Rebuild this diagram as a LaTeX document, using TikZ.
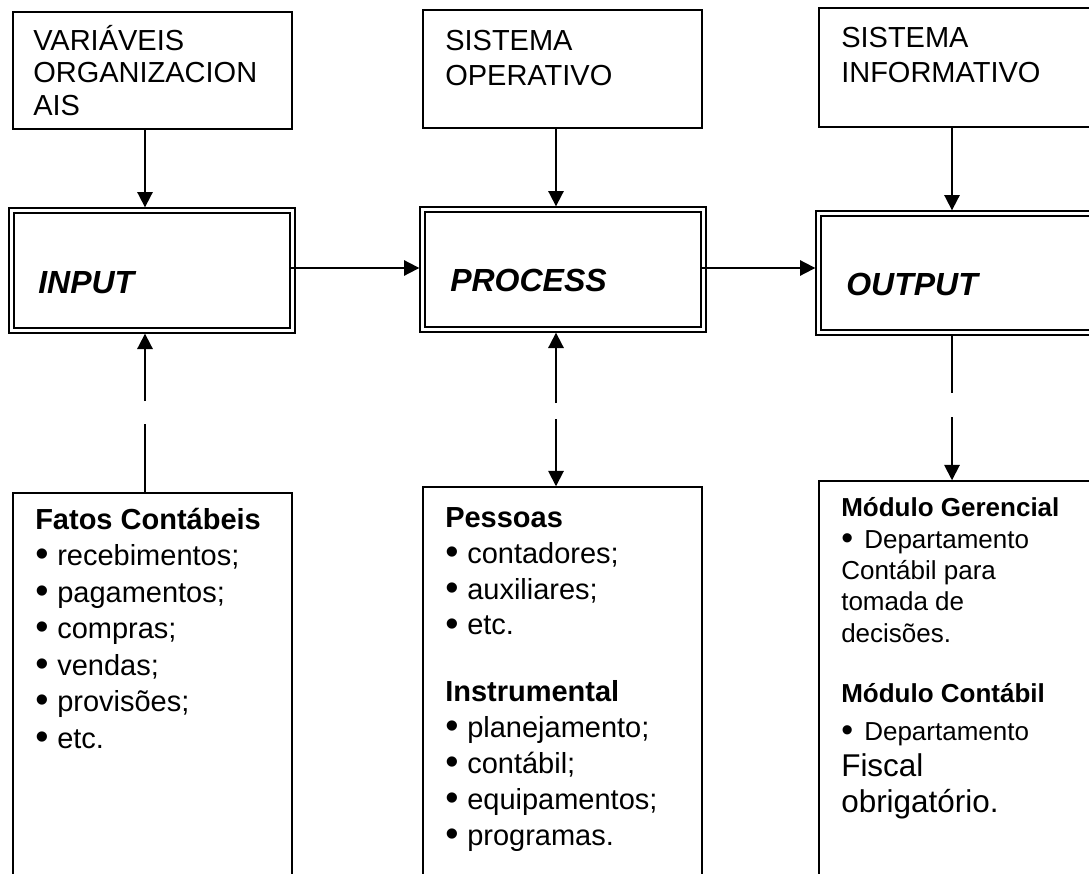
\documentclass[tikz,border=0pt]{standalone}
\usepackage{fontspec}
\setmainfont{Liberation Sans}
\usetikzlibrary{arrows.meta,fit}
\newcommand{\mydot}{\raisebox{-0.9pt}{\scalebox{1.3}{•}}}
\newcommand{\myblt}{\makebox[16.5pt][l]{\mydot}}
\newcommand{\mybltb}{\makebox[17.25pt][l]{\mydot}}
\begin{document}
\begin{tikzpicture}[x=0.75pt,y=-0.75pt,
  box/.style={draw, line width=1.1pt, inner sep=0pt},
  outerbox/.style={draw, line width=1pt, inner sep=0pt},
  innerline/.style={line width=1.6pt},
  conn/.style={line width=1.4pt},
  arr/.style={conn, -{Triangle[length=11.5pt,width=11.5pt]}},
  lbl/.style={anchor=base west, align=left, inner sep=0pt},
  big/.style={anchor=base west, inner sep=0pt, font=\bfseries\itshape\fontsize{24pt}{28pt}\selectfont}]
\useasboundingbox (0,0) rectangle (1089,874);
\clip (0,0) rectangle (1089,874);

% top boxes
\node[box, fit={(13,12) (292,129)}] (var) {};
\node[box, fit={(423,10) (702,128)}] (sisop) {};
\node[box, fit={(819,8) (1110,127)}] (sisinf) {};

% multi-line labels are placed at the baseline of their last line
\node[lbl, font=\fontsize{21.75pt}{24.75pt}\selectfont] (tvar) at (33,116) {VARIÁVEIS\\ORGANIZACION\\AIS};
\node[lbl, font=\fontsize{21.75pt}{26.25pt}\selectfont] (tsop) at (445,85) {SISTEMA\\OPERATIVO};
\node[lbl, font=\fontsize{21.75pt}{26.25pt}\selectfont] (tsinf) at (841,83) {SISTEMA\\INFORMATIVO};

% double boxes
\node[outerbox, fit={(9,208) (295,333)}] (input) {};
\node[outerbox, fit={(420,207) (706,332)}] (process) {};
\node[outerbox, fit={(816,211) (1110,335)}] (output) {};
\foreach \n in {input,process,output}
  \draw[innerline] ([shift={(6,6)}]\n.north west) rectangle ([shift={(-6,-6)}]\n.south east);

\node[big] (tin) at (38,293) {INPUT};
\node[big] (tproc) at (450,291) {PROCESS};
\node[big] (tout) at (846,295) {OUTPUT};

% bottom boxes (open at the bottom edge of the picture)
\node[box, fit={(13,493) (292,900)}] (fatos) {};
\node[box, fit={(423,487) (702,900)}] (pessoas) {};
\node[box, fit={(819,481) (1110,900)}] (modulo) {};

\node[lbl, font=\fontsize{21.75pt}{27.375pt}\selectfont] (tfatos) at (35,748)
  {\textbf{Fatos Contábeis}\\\myblt recebimentos;\\\myblt pagamentos;\\\myblt compras;\\\myblt vendas;\\\myblt provisões;\\\myblt etc.};
\node[lbl, font=\fontsize{21.75pt}{26.85pt}\selectfont] (tpess) at (445,845)
  {\textbf{Pessoas}\\\myblt contadores;\\\myblt auxiliares;\\\myblt etc.\\[23.3pt]\textbf{Instrumental}\\\myblt planejamento;\\\myblt contábil;\\\myblt equipamentos;\\\myblt programas.};
\node[lbl, font=\fontsize{19.5pt}{23.4pt}\selectfont] (tmod1) at (841,642)
  {\textbf{Módulo Gerencial}\\[0.6pt]\mybltb Departamento\\Contábil para\\tomada de\\decisões.};
\node[lbl, font=\fontsize{19.5pt}{27pt}\selectfont] (tmod2) at (841,812)
  {\textbf{Módulo Contábil}\\[1.5pt]\mybltb Departamento\\{\fontsize{23.6pt}{27pt}\selectfont Fiscal}\\{\fontsize{23.6pt}{27pt}\selectfont obrigatório.}};

% coordinates for connectors
\coordinate (cA) at (145,401);
\coordinate (cB) at (145,424);
\coordinate (cC) at (556,403);
\coordinate (cD) at (556,419);
\coordinate (cE) at (952,393);
\coordinate (cF) at (952,417);
\coordinate (h1) at (0,268);
\coordinate (iE) at (289,268);
\coordinate (pE) at (700,268);

% top connectors
\draw[arr] (var.south -| cA) -- (input.north -| cA);
\draw[arr] (sisop.south -| cC) -- (process.north -| cC);
\draw[arr] (sisinf.south -| cE) -- (output.north -| cE);

% horizontal connectors
\draw[arr] (iE) -- (process.west |- h1);
\draw[arr] (pE) -- (output.west |- h1);

% bottom connectors (broken lines)
\draw[conn] (fatos.north -| cB) -- (cB);
\draw[arr] (cA) -- (input.south -| cA);
\draw[arr] (cC) -- (process.south -| cC);
\draw[arr] (cD) -- (pessoas.north -| cD);
\draw[conn] (output.south -| cE) -- (cE);
\draw[arr] (cF) -- (modulo.north -| cF);
\end{tikzpicture}
\end{document}
